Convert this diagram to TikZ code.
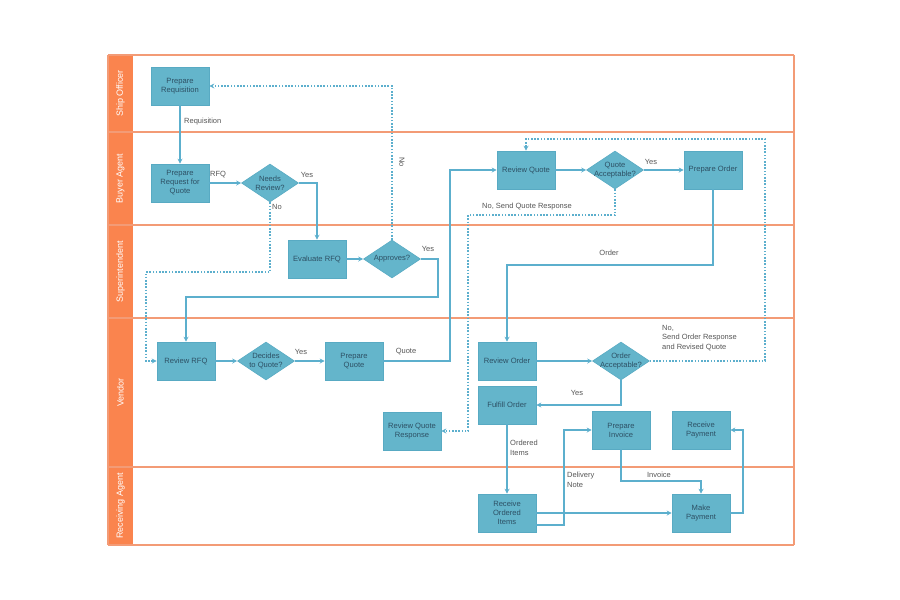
\documentclass[tikz,border=0pt]{standalone}
\usepackage{fontspec}
\setmainfont{Liberation Sans}
\usetikzlibrary{shapes.geometric,arrows.meta}
\definecolor{boxfill}{RGB}{100,181,203}
\definecolor{boxdraw}{RGB}{88,170,195}
\definecolor{boxtext}{RGB}{45,80,100}
\definecolor{conn}{RGB}{92,175,205}
\definecolor{lbltext}{RGB}{85,85,85}
\definecolor{laneline}{RGB}{243,155,118}
\definecolor{headfill}{RGB}{250,132,78}
\tikzset{
  stepbox/.style={draw=boxdraw, fill=boxfill, line width=0.6pt, minimum width=58pt, minimum height=38pt, inner sep=1pt, align=center, text=boxtext, font=\fontsize{7.6}{9}\selectfont},
  decbox/.style={shape=diamond, draw=boxdraw, fill=boxfill, line width=0.6pt, minimum width=57pt, minimum height=38pt, inner sep=0pt},
  dtext/.style={align=center, text=boxtext, font=\fontsize{7.6}{9}\selectfont, inner sep=0pt},
  lbl/.style={text=lbltext, font=\fontsize{7.5}{9.5}\selectfont, inner sep=0pt, align=left},
  arr/.style={draw=conn, line width=1.3pt, -{Stealth[length=5pt,width=5pt]}},
  darr/.style={arr, dash pattern=on 1.6pt off 1.6pt},
  lanetext/.style={text=white, font=\fontsize{9}{10}\selectfont, rotate=90}
}
\begin{document}
\begin{tikzpicture}[x=1pt,y=-1pt]
\useasboundingbox (0,0) rectangle (900,600);
% lanes
\foreach \ya/\yb/\nm in {55/132/Ship Officer,132/225/Buyer Agent,225/318/Superintendent,318/467/Vendor,467/545/Receiving Agent}{
  \fill[headfill] (108,\ya) rectangle (133,\yb);
  \node[lanetext] at (120.5,{(\ya+\yb)/2}) {\nm};
}
\foreach \y in {55,132,225,318,467,545}{
  \draw[laneline, line width=1.6pt] (108,\y) -- (794,\y);
}
\draw[laneline, line width=1.3pt] (794,55) -- (794,545);
\draw[laneline, line width=1.3pt] (108,55) -- (108,545);

% nodes
\node[stepbox] (preq) at (180,86) {Prepare\\Requisition};
\node[stepbox] (prq) at (180,183) {Prepare\\Request for\\Quote};
\node[decbox, label={[dtext]center:Needs\\Review?}] (nr) at (270,183) {};
\node[stepbox] (ev) at (317,259) {Evaluate RFQ};
\node[decbox, label={[dtext]center:Approves?}] (ap) at (392,259) {};
\node[stepbox] (rfq) at (186,361) {Review RFQ};
\node[decbox, label={[dtext]center:Decides\\to Quote?}] (dq) at (266,361) {};
\node[stepbox] (pq) at (354,361) {Prepare\\Quote};
\node[stepbox] (rq) at (526,170) {Review Quote};
\node[decbox, label={[dtext]center:Quote\\Acceptable?}] (qa) at (615,170) {};
\node[stepbox] (po) at (713,170) {Prepare Order};
\node[stepbox] (ro) at (507,361) {Review Order};
\node[decbox, label={[dtext]center:Order\\Acceptable?}] (oa) at (621,361) {};
\node[stepbox] (fo) at (507,405) {Fulfill Order};
\node[stepbox] (rqr) at (412,431) {Review Quote\\Response};
\node[stepbox] (pi) at (621,430) {Prepare\\Invoice};
\node[stepbox] (rp) at (701,430) {Receive\\Payment};
\node[stepbox] (roi) at (507,513) {Receive\\Ordered\\Items};
\node[stepbox] (mp) at (701,513) {Make\\Payment};

% connectors
\draw[arr] (preq.south) -- (prq.north);
\node[lbl, anchor=west] (l1) at (184,122) {Requisition};
\draw[arr] (prq.east) -- (nr.west);
\node[lbl, anchor=west] (l2) at (210,175) {RFQ};
\draw[arr] (nr.east) -| (ev.north);
\node[lbl] (l3) at (307,175) {Yes};
\draw[darr] (nr.south) |- (146,272) |- (rfq.west);
\node[lbl, anchor=west] (l4) at (272,207) {No};
\draw[arr] (ev.east) -- (ap.west);
\draw[darr] (ap.north) |- (preq.east);
\node[lbl, rotate=-90] (l5) at (402,162) {No};
\draw[arr] (ap.east) -| (438,297) -| (rfq.north);
\node[lbl] (l6) at (428,249) {Yes};
\draw[arr] (rfq.east) -- (dq.west);
\draw[arr] (dq.east) -- (pq.west);
\node[lbl] (l7) at (301,352) {Yes};
\draw[arr] (pq.east) -| (450,200) |- (rq.west);
\node[lbl] (l8) at (406,352) {Quote};
\draw[arr] (rq.east) -- (qa.west);
\draw[arr] (qa.east) -- (po.west);
\node[lbl] (l9) at (651,162) {Yes};
\draw[darr] (qa.south) |- (468,215) |- (rqr.east);
\node[lbl] (l10) at (527,207) {No, Send Quote Response};
\draw[arr] (po.south) -- (po.south |- 0,265) -| (ro.north);
\node[lbl] (l11) at (609,253) {Order};
\draw[arr] (ro.east) -- (oa.west);
\draw[darr] (oa.east) -| (765,139) -| (rq.north);
\node[lbl, anchor=north west] (l12) at (662,325) {No,\\Send Order Response\\and Revised Quote};
\draw[arr] (oa.south) |- (fo.east);
\node[lbl] (l13) at (577,393) {Yes};
\draw[arr] (fo.south) -- (roi.north);
\node[lbl, anchor=north west] (l14) at (510,440) {Ordered\\Items};
\draw[arr] ([yshift=-12pt]roi.east) -| (564,450) |- (pi.west);
\node[lbl, anchor=north west] (l15) at (567,472) {Delivery\\Note};
\draw[arr] (roi.east) -- (mp.west);
\draw[arr] (pi.south) -- (pi.south |- 0,481) -| (mp.north);
\node[lbl] (l16) at (659,475) {Invoice};
\draw[arr] (mp.east) -| (743,470) |- (rp.east);
\end{tikzpicture}
\end{document}
